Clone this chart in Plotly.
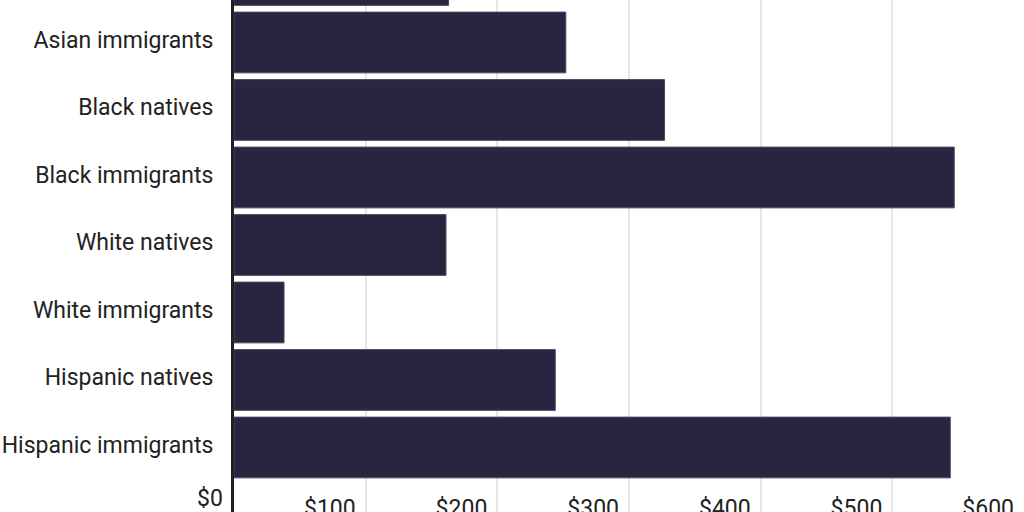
import plotly.graph_objects as go

categories = [
    "Asian natives",
    "Asian immigrants",
    "Black natives",
    "Black immigrants",
    "White natives",
    "White immigrants",
    "Hispanic natives",
    "Hispanic immigrants",
]
values = [163, 252, 327, 547, 161, 38, 244, 544]

tick_values = [0, 100, 200, 300, 400, 500, 600]
tick_labels = ["$0", "$100", "$200", "$300", "$400", "$500", "$600"]

BAR = "#2a2440"
TEXT = "#222222"
FONT = "Roboto"
FS = 23

fig = go.Figure(
    go.Bar(
        x=values,
        y=categories,
        orientation="h",
        marker=dict(color=BAR, line=dict(color="#4b4763", width=1)),
        hoverinfo="skip",
    )
)

fig.update_layout(
    width=1024,
    height=512,
    margin=dict(l=234, r=0, t=0, b=0, autoexpand=False),
    paper_bgcolor="white",
    plot_bgcolor="white",
    showlegend=False,
    bargap=0.1,
    font=dict(family=FONT, size=FS, color=TEXT),
)

fig.update_xaxes(
    range=[0, 600],
    automargin=False,
    tickvals=tick_values[1:],
    ticktext=tick_labels[1:],
    showgrid=True,
    gridcolor="#e6e6e6",
    gridwidth=1.5,
    zeroline=False,
    showline=False,
    ticks="",
    ticklabelposition="inside left",
    ticklabeloverflow="allow",
    ticklabelstandoff=-15,
    ticklabelshift=-10,
    tickfont=dict(family=FONT, size=FS, color=TEXT),
)

fig.update_yaxes(
    type="category",
    automargin=False,
    range=[7.9556, 0.3704],
    showgrid=False,
    zeroline=False,
    showline=True,
    linecolor="#222222",
    linewidth=3,
    ticks="",
    ticklabelstandoff=13,
    ticklabelshift=3,
    tickfont=dict(family=FONT, size=FS, color=TEXT),
)

fig.add_annotation(
    x=tick_values[0],
    y=0,
    xref="x",
    yref="paper",
    text=tick_labels[0],
    showarrow=False,
    xanchor="right",
    yanchor="bottom",
    xshift=-9,
    yshift=-2,
    font=dict(family=FONT, size=FS, color=TEXT),
)

fig.write_html(
    "out.html",
    config={"displayModeBar": False},
    post_script="document.body.style.margin='0';document.body.style.overflow='hidden';",
)
